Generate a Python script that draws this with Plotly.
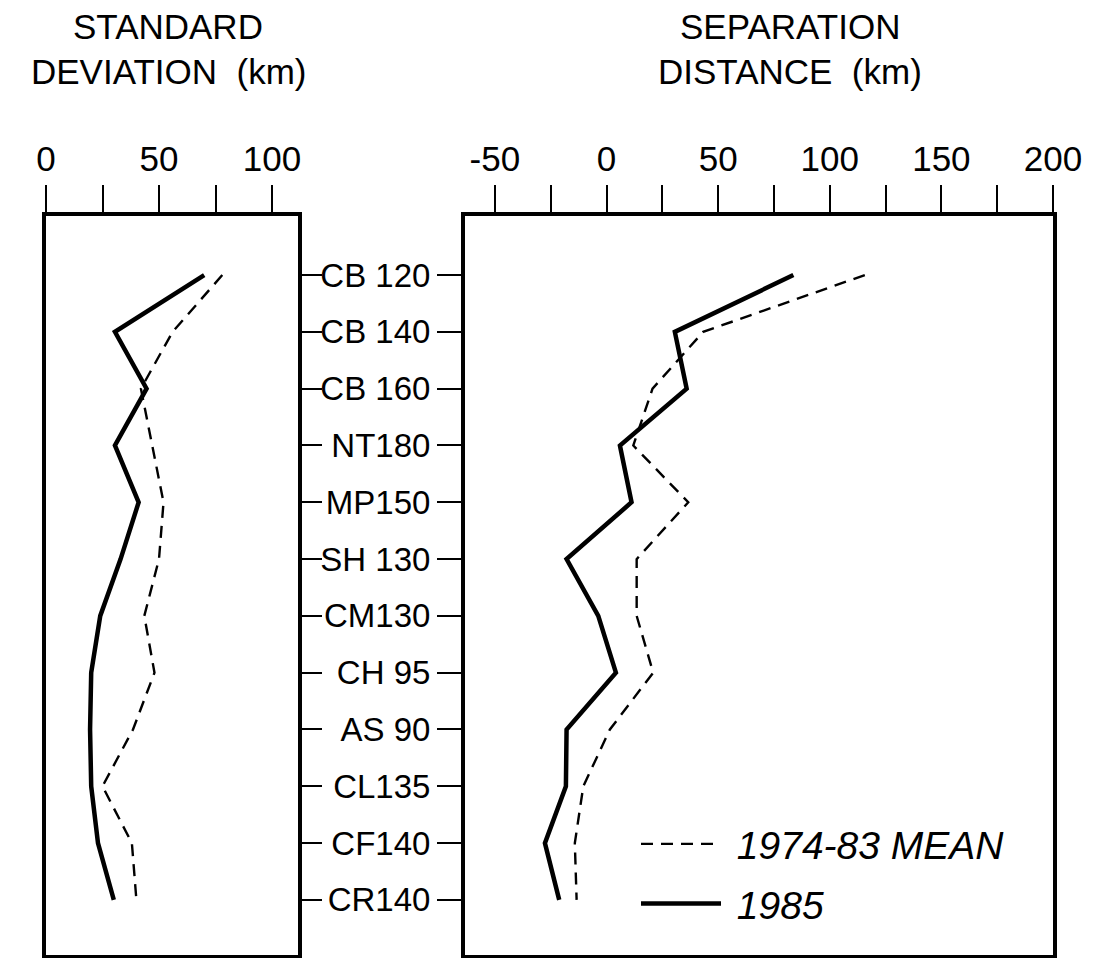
import plotly.graph_objects as go

# ---------------- data ----------------
stations = ["CB 120", "CB 140", "CB 160", "NT180", "MP150", "SH 130",
            "CM130", "CH 95", "AS 90", "CL135", "CF140", "CR140"]

sd_mean = [78, 56, 42, 47, 52, 50, 43.5, 48, 38.5, 25, 38, 40]
sd_1985 = [70, 30.5, 44.5, 30.5, 41, 33, 24, 20, 19.5, 20, 23, 30]

sep_mean = [115.7, 43.3, 20.6, 12, 36.6, 13.5, 13.5, 20.9, 1.5, -10.4, -14.2, -13.4]
sep_1985 = [83.7, 30.6, 35.9, 6.0, 11.2, -17.9, -3.7, 4.2, -17.9, -18.2, -27.6, -21.2]

sd_ticks = [0, 25, 50, 75, 100]
sd_labels = ["0", "", "50", "", "100"]
sep_ticks = [-50, -25, 0, 25, 50, 75, 100, 125, 150, 175, 200]
sep_labels = ["-50", "", "0", "", "50", "", "100", "", "150", "", "200"]

name_mean = "1974-83 MEAN"
name_1985 = "1985"

title_left = ["STANDARD", "DEVIATION&nbsp;&nbsp;(km)"]
title_right = ["SEPARATION", "DISTANCE&nbsp;&nbsp;(km)"]

# ---------------- figure ----------------
W, H = 1093, 958
FONT = "Liberation Sans"

fig = go.Figure()

dash_style = "12px,8px"

fig.add_trace(go.Scatter(x=sd_mean, y=stations, mode="lines", xaxis="x", yaxis="y",
                         line=dict(color="black", width=2.4, dash=dash_style),
                         showlegend=False))
fig.add_trace(go.Scatter(x=sd_1985, y=stations, mode="lines", xaxis="x", yaxis="y",
                         line=dict(color="black", width=4.5),
                         showlegend=False))
fig.add_trace(go.Scatter(x=sep_mean, y=stations, mode="lines", xaxis="x2", yaxis="y2",
                         name="&nbsp;" + name_mean, legendgroup="a",
                         line=dict(color="black", width=2.4, dash=dash_style)))
fig.add_trace(go.Scatter(x=sep_1985, y=stations, mode="lines", xaxis="x2", yaxis="y2",
                         name="&nbsp;" + name_1985, legendgroup="b",
                         line=dict(color="black", width=4.5)))

ydom = [3 / H, 1 - 216 / H]
yrange = [11.97, -1.04]

common_x = dict(side="top", showline=True, linewidth=4, linecolor="black", mirror=True,
                ticks="outside", ticklen=27, tickwidth=2, tickcolor="black",
                showgrid=False, zeroline=False, automargin=False,
                tickfont=dict(family=FONT, size=35, color="black"))

annotations = []
for lines, xc in ((title_left, 168), (title_right, 790)):
    for txt, yc in zip(lines, (27, 72)):
        annotations.append(dict(text=txt, x=xc / W, y=1 - yc / H, xref="paper", yref="paper",
                                xanchor="center", yanchor="middle", showarrow=False,
                                font=dict(family=FONT, size=35, color="black")))

fig.update_layout(
    width=W, height=H,
    margin=dict(l=0, r=0, t=0, b=0, autoexpand=False),
    paper_bgcolor="white", plot_bgcolor="white",
    font=dict(family=FONT, color="black"),
    xaxis=dict(domain=[46 / W, 298 / W], range=[0, 111.5], anchor="y",
               tickmode="array", tickvals=sd_ticks, ticktext=sd_labels, **common_x),
    xaxis2=dict(domain=[465 / W, 1053 / W], range=[-63.4, 200], anchor="y2",
                tickmode="array", tickvals=sep_ticks, ticktext=sep_labels, **common_x),
    yaxis=dict(domain=ydom, range=yrange, type="category", categoryorder="array",
               categoryarray=stations, anchor="x", side="right", automargin=False,
               showline=True, linewidth=4, linecolor="black", mirror=True,
               ticks="outside", ticklen=20, tickwidth=2, tickcolor="black",
               showticklabels=False, showgrid=False, zeroline=False),
    yaxis2=dict(domain=ydom, range=yrange, type="category", categoryorder="array",
                categoryarray=stations, anchor="x2", side="left", automargin=False,
                showline=True, linewidth=4, linecolor="black", mirror=True,
                ticks="outside", ticklen=24, tickwidth=2, tickcolor="black",
                showgrid=False, zeroline=False,
                tickfont=dict(family=FONT, size=33, color="black")),
    legend=dict(x=636 / W, y=1 - 812 / H, xanchor="left", yanchor="top",
                bgcolor="rgba(0,0,0,0)", itemwidth=80, tracegroupgap=6,
                traceorder="grouped",
                font=dict(family=FONT, size=39, color="black", style="italic")),
    annotations=annotations,
)

fig.write_html("out.html", config={"displayModeBar": False},
               post_script="document.body.style.margin='0px';")
